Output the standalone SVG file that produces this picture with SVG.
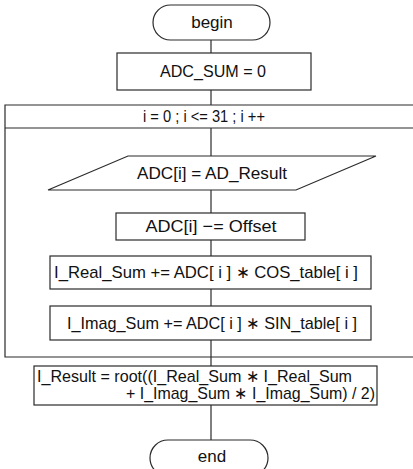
<svg xmlns="http://www.w3.org/2000/svg" width="413" height="469" viewBox="0 0 413 469">
<style>
.s{fill:#fff;stroke:#2a2a2a;stroke-width:1.2}
.c{fill:none;stroke:#2a2a2a;stroke-width:1.2}
text{font-family:"Liberation Sans",Arial,sans-serif;font-size:17px;fill:#111}
.m{text-anchor:middle}
</style>
<rect width="413" height="469" fill="#fff"/>
<g id="connectors">
<line class="c" x1="211" y1="40" x2="211" y2="53"/>
<line class="c" x1="211" y1="90" x2="211" y2="105"/>
<line class="c" x1="211" y1="128" x2="211" y2="156"/>
<line class="c" x1="211" y1="190" x2="211" y2="213"/>
<line class="c" x1="211" y1="240" x2="211" y2="256"/>
<line class="c" x1="211" y1="289" x2="211" y2="306"/>
<line class="c" x1="211" y1="340" x2="211" y2="357"/>
<line class="c" x1="211" y1="357" x2="211" y2="366"/>
<line class="c" x1="211" y1="405" x2="211" y2="440"/>
</g>
<g id="loop">
<path class="c" d="M420 105 H5 V357 H420 M5 128 H420"/>
<text x="204" y="122" class="m" textLength="122" lengthAdjust="spacingAndGlyphs">i = 0 ; i &lt;= 31 ; i ++</text>
</g>
<g id="begin">
<rect class="s" x="153" y="5" width="117" height="35" rx="17.5"/>
<text x="212" y="28" class="m">begin</text>
</g>
<g id="init">
<rect class="s" x="117" y="53" width="194" height="37"/>
<text x="213" y="77" class="m" textLength="106" lengthAdjust="spacingAndGlyphs">ADC_SUM = 0</text>
</g>
<g id="input">
<polygon class="s" points="128,156 376,156 296,190 48,190"/>
<text x="212" y="179" class="m" textLength="150" lengthAdjust="spacingAndGlyphs">ADC[i] = AD_Result</text>
</g>
<g id="offset">
<rect class="s" x="116" y="213" width="189" height="27"/>
<text x="211" y="232" class="m" textLength="131" lengthAdjust="spacingAndGlyphs">ADC[i] −= Offset</text>
</g>
<g id="real">
<rect class="s" x="50" y="256" width="321" height="33"/>
<text x="206" y="278" class="m" textLength="304" lengthAdjust="spacingAndGlyphs">I_Real_Sum += ADC[ i ] ∗  COS_table[ i ]</text>
</g>
<g id="imag">
<rect class="s" x="50" y="306" width="321" height="34"/>
<text x="212" y="329" class="m" textLength="290" lengthAdjust="spacingAndGlyphs">I_Imag_Sum += ADC[ i ] ∗  SIN_table[ i ]</text>
</g>
<g id="result">
<rect class="s" x="34" y="366" width="343" height="39"/>
<text x="37" y="382" textLength="315" lengthAdjust="spacingAndGlyphs">I_Result = root((I_Real_Sum ∗ I_Real_Sum</text>
<text x="126" y="399" textLength="249" lengthAdjust="spacingAndGlyphs">+ I_Imag_Sum ∗ I_Imag_Sum) / 2)</text>
</g>
<g id="end">
<rect class="s" x="150" y="440" width="118" height="36" rx="18"/>
<text x="212" y="462" class="m">end</text>
</g>
</svg>
